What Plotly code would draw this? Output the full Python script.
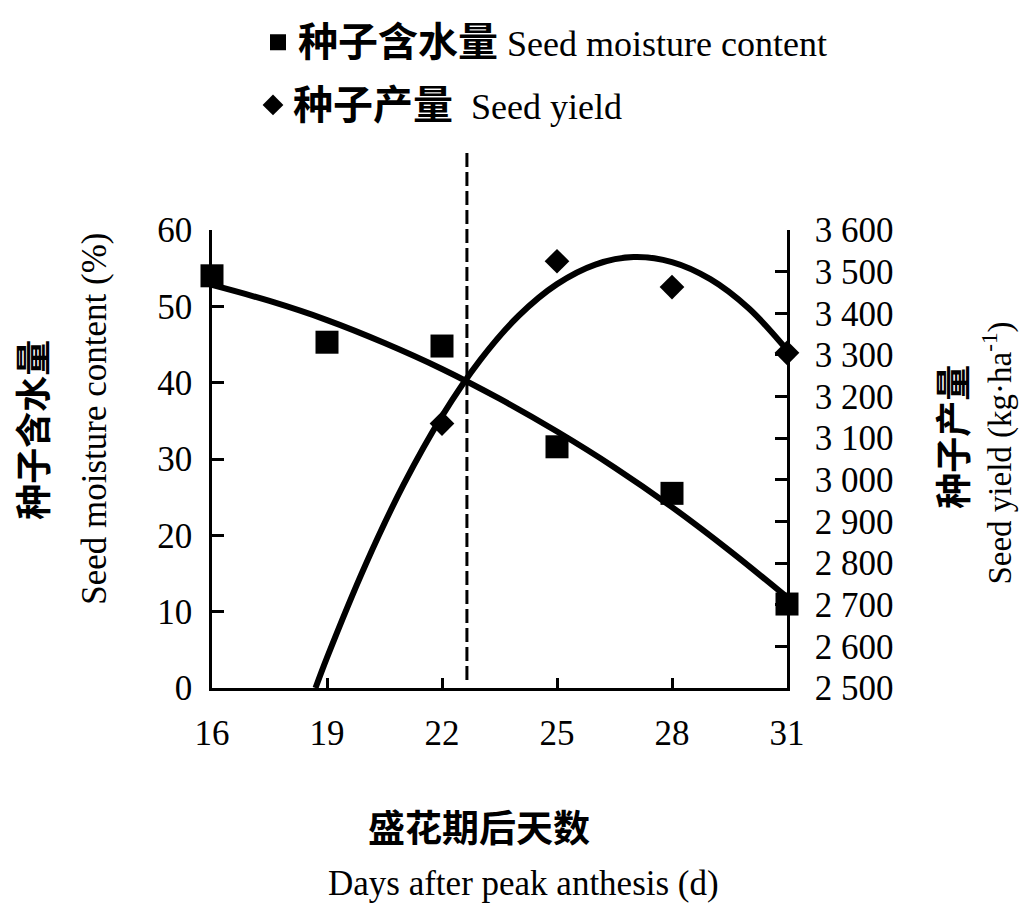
import plotly.graph_objects as go

# ---- data ----
days = [16, 19, 22, 25, 28, 31]
moisture = [54.0, 45.3, 44.8, 31.6, 25.5, 11.0]

yield_days = [22, 25, 28, 31]
seed_yield = [3135, 3525, 3463, 3305]

# fitted trend curves
moist_fit_days = [16, 17.5, 19, 20.5, 22, 23.5, 25, 26.5, 28, 29.5, 31]
moist_fit = [52.8, 50.7, 48.2, 45.2, 41.8, 37.9, 33.6, 28.9, 23.7, 18.0, 11.9]

yield_fit_days = [18.7, 19, 20, 21, 22, 23, 24, 25, 26, 27, 28, 29, 30, 31]
yield_fit = [2500, 2573, 2795, 2989, 3153, 3288, 3394, 3470, 3517, 3535, 3523, 3482, 3412, 3312]

cross_day = 22.65

x_ticks = [16, 19, 22, 25, 28, 31]
left_ticks = [0, 10, 20, 30, 40, 50, 60]
right_ticks = [2500, 2600, 2700, 2800, 2900, 3000, 3100, 3200, 3300, 3400, 3500, 3600]
right_ticktext = ["2 500", "2 600", "2 700", "2 800", "2 900", "3 000",
                  "3 100", "3 200", "3 300", "3 400", "3 500", "3 600"]

FONT = "Liberation Serif, Noto Sans CJK SC, serif"

fig = go.Figure()

fig.add_trace(go.Scatter(x=moist_fit_days, y=moist_fit, mode="lines",
                         line=dict(color="black", width=6, shape="spline"),
                         showlegend=False, hoverinfo="skip"))
fig.add_trace(go.Scatter(x=yield_fit_days, y=yield_fit, mode="lines", yaxis="y2",
                         line=dict(color="black", width=6, shape="spline"),
                         showlegend=False, hoverinfo="skip"))

fig.add_trace(go.Scatter(x=days, y=moisture, mode="markers", cliponaxis=False,
                         marker=dict(symbol="square", size=23, color="black"),
                         name="<span style='font-size:40px'><b>种子含水量</b></span> Seed moisture content",
                         legend="legend"))
fig.add_trace(go.Scatter(x=yield_days, y=seed_yield, mode="markers", yaxis="y2", cliponaxis=False,
                         marker=dict(symbol="diamond", size=19, color="black"),
                         name="<span style='font-size:40px'><b>种子产量</b></span>  Seed yield",
                         legend="legend2"))

L, R, T, B = 212, 235, 227, 223
W, H = 1022, 911
pw, ph = W - L - R, H - T - B


def px_x(px):
    return (px - L) / pw


def px_y(py):
    return (H - B - py) / ph


fig.add_shape(type="line", xref="x", yref="paper", x0=cross_day, x1=cross_day,
              y0=px_y(680), y1=px_y(145), line=dict(color="black", width=3, dash="14px,5px"))

axis_common = dict(showgrid=False, zeroline=False, showline=True, linecolor="black", linewidth=2.5,
                   ticks="inside", tickcolor="black", tickwidth=2.5,
                   tickfont=dict(family=FONT, size=35, color="black"))

fig.update_layout(
    width=W, height=H,
    margin=dict(l=L, r=R, t=T, b=B),
    paper_bgcolor="white", plot_bgcolor="white",
    font=dict(family=FONT, color="black"),
    xaxis=dict(range=[16, 31], tickvals=x_ticks, ticklen=10, ticklabelstandoff=12, **axis_common),
    yaxis=dict(range=[0, 60], tickvals=left_ticks, ticklen=12, ticklabelstandoff=10, **axis_common),
    yaxis2=dict(range=[2500, 3600], tickvals=right_ticks, ticktext=right_ticktext, overlaying="y",
                side="right", ticklen=12, ticklabelstandoff=18, **axis_common),
    legend=dict(x=px_x(258), y=px_y(8), xanchor="left", yanchor="top", bgcolor="rgba(0,0,0,0)",
                font=dict(family=FONT, size=36, color="black")),
    legend2=dict(x=px_x(253), y=px_y(71), xanchor="left", yanchor="top", bgcolor="rgba(0,0,0,0)",
                 font=dict(family=FONT, size=36, color="black")),
    showlegend=True,
)

ann = [
    dict(text="<b>种子含水量</b>", x=px_x(35), y=px_y(428), textangle=-90, size=36),
    dict(text="Seed moisture content (%)", x=px_x(95), y=px_y(417), textangle=-90, size=35),
    dict(text="<b>种子产量</b>", x=px_x(955), y=px_y(435), textangle=-90, size=36),
    dict(text="Seed yield (kg·ha<sup>-1</sup>)", x=px_x(998), y=px_y(452), textangle=-90, size=33),
    dict(text="<b>盛花期后天数</b>", x=px_x(479), y=px_y(830), textangle=0, size=37),
    dict(text="Days after peak anthesis (d)", x=px_x(523), y=px_y(885), textangle=0, size=35),
]
for a in ann:
    fig.add_annotation(text=a["text"], x=a["x"], y=a["y"], xref="paper", yref="paper",
                       xanchor="center", yanchor="middle", textangle=a["textangle"], showarrow=False,
                       font=dict(family=FONT, size=a["size"], color="black"))

fig.write_html("out.html", post_script="document.body.style.margin='0px';",
               config={"displayModeBar": False})
